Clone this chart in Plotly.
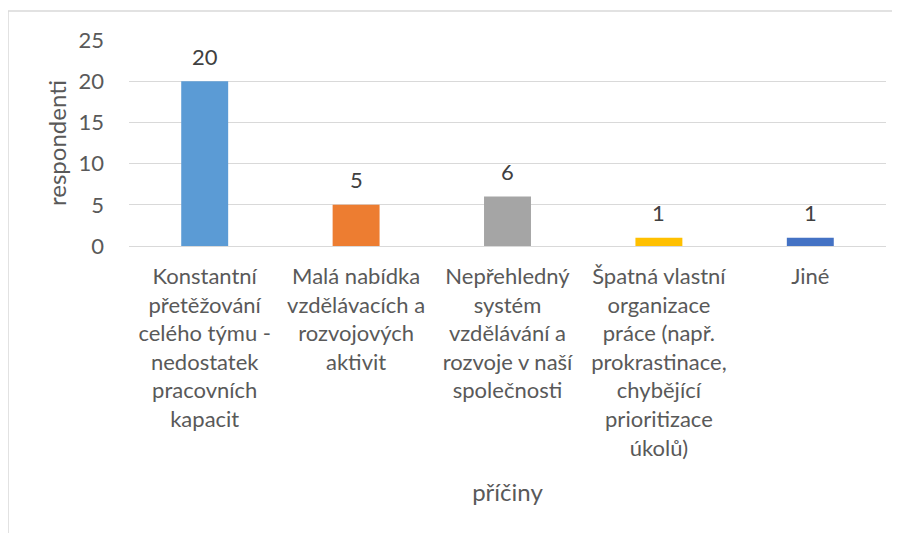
import plotly.graph_objects as go

categories = [
    "Konstantní<br>přetěžování<br>celého týmu -<br>nedostatek<br>pracovních<br>kapacit",
    "Malá nabídka<br>vzdělávacích a<br>rozvojových<br>aktivit",
    "Nepřehledný<br>systém<br>vzdělávání a<br>rozvoje v naší<br>společnosti",
    "Špatná vlastní<br>organizace<br>práce (např.<br>prokrastinace,<br>chybějící<br>prioritizace<br>úkolů)",
    "Jiné",
]
values = [20, 5, 6, 1, 1]
colors = ["#5B9BD5", "#ED7D31", "#A5A5A5", "#FFC000", "#4472C4"]
y_ticks = [0, 5, 10, 15, 20, 25]

FONT = "Lato"
GREY = "#595959"

W, H = 900, 533
OFF = 8  # page body margin offset
ml, mr, mt, mb = 129 - OFF, 14 + OFF, 40 - OFF, 287 + OFF

fig = go.Figure()
fig.add_trace(go.Bar(
    x=categories, y=values,
    marker=dict(color=colors, line=dict(width=0)),
    width=0.31,
    hoverinfo="skip",
))

for c, v in zip(categories, values):
    fig.add_annotation(x=c, y=v, text=str(v), showarrow=False,
                       yanchor="middle", yshift=25,
                       font=dict(family=FONT, size=22, color="#404040"))

fig.update_layout(
    width=W, height=H,
    margin=dict(l=ml, r=mr, t=mt, b=mb),
    paper_bgcolor="white", plot_bgcolor="white",
    showlegend=False,
    font=dict(family=FONT, size=22, color=GREY),
    xaxis=dict(
        showgrid=False, showline=False, zeroline=False,
        tickfont=dict(family=FONT, size=22, color=GREY),
        tickangle=0, ticks="", ticklabelstandoff=15,
        title=dict(text="příčiny", font=dict(family=FONT, size=24, color=GREY), standoff=24),
        automargin=False,
    ),
    yaxis=dict(
        range=[0, 25], tickvals=y_ticks,
        showgrid=True, gridcolor="#D9D9D9", gridwidth=1.3,
        zeroline=True, zerolinecolor="#D9D9D9", zerolinewidth=1.3,
        showline=False,
        tickfont=dict(family=FONT, size=22, color=GREY),
        ticks="", ticklabelstandoff=24,
        title=dict(text="respondenti", font=dict(family=FONT, size=24, color=GREY), standoff=5),
        automargin=False,
    ),
)

# chart frame (partly cropped at right and bottom)
px = lambda x: (x - ml) / (W - ml - mr)
py = lambda y: 1 - (y - mt) / (H - mt - mb)
fig.add_shape(type="line", xref="paper", yref="paper",
              x0=px(8 - OFF), x1=px(900), y0=py(11 - OFF), y1=py(11 - OFF),
              line=dict(color="#D9D9D9", width=1.5))
fig.add_shape(type="line", xref="paper", yref="paper",
              x0=px(8 - OFF), x1=px(8 - OFF), y0=py(11 - OFF), y1=py(533),
              line=dict(color="#D9D9D9", width=1.5))

fig.write_html("out.html")
